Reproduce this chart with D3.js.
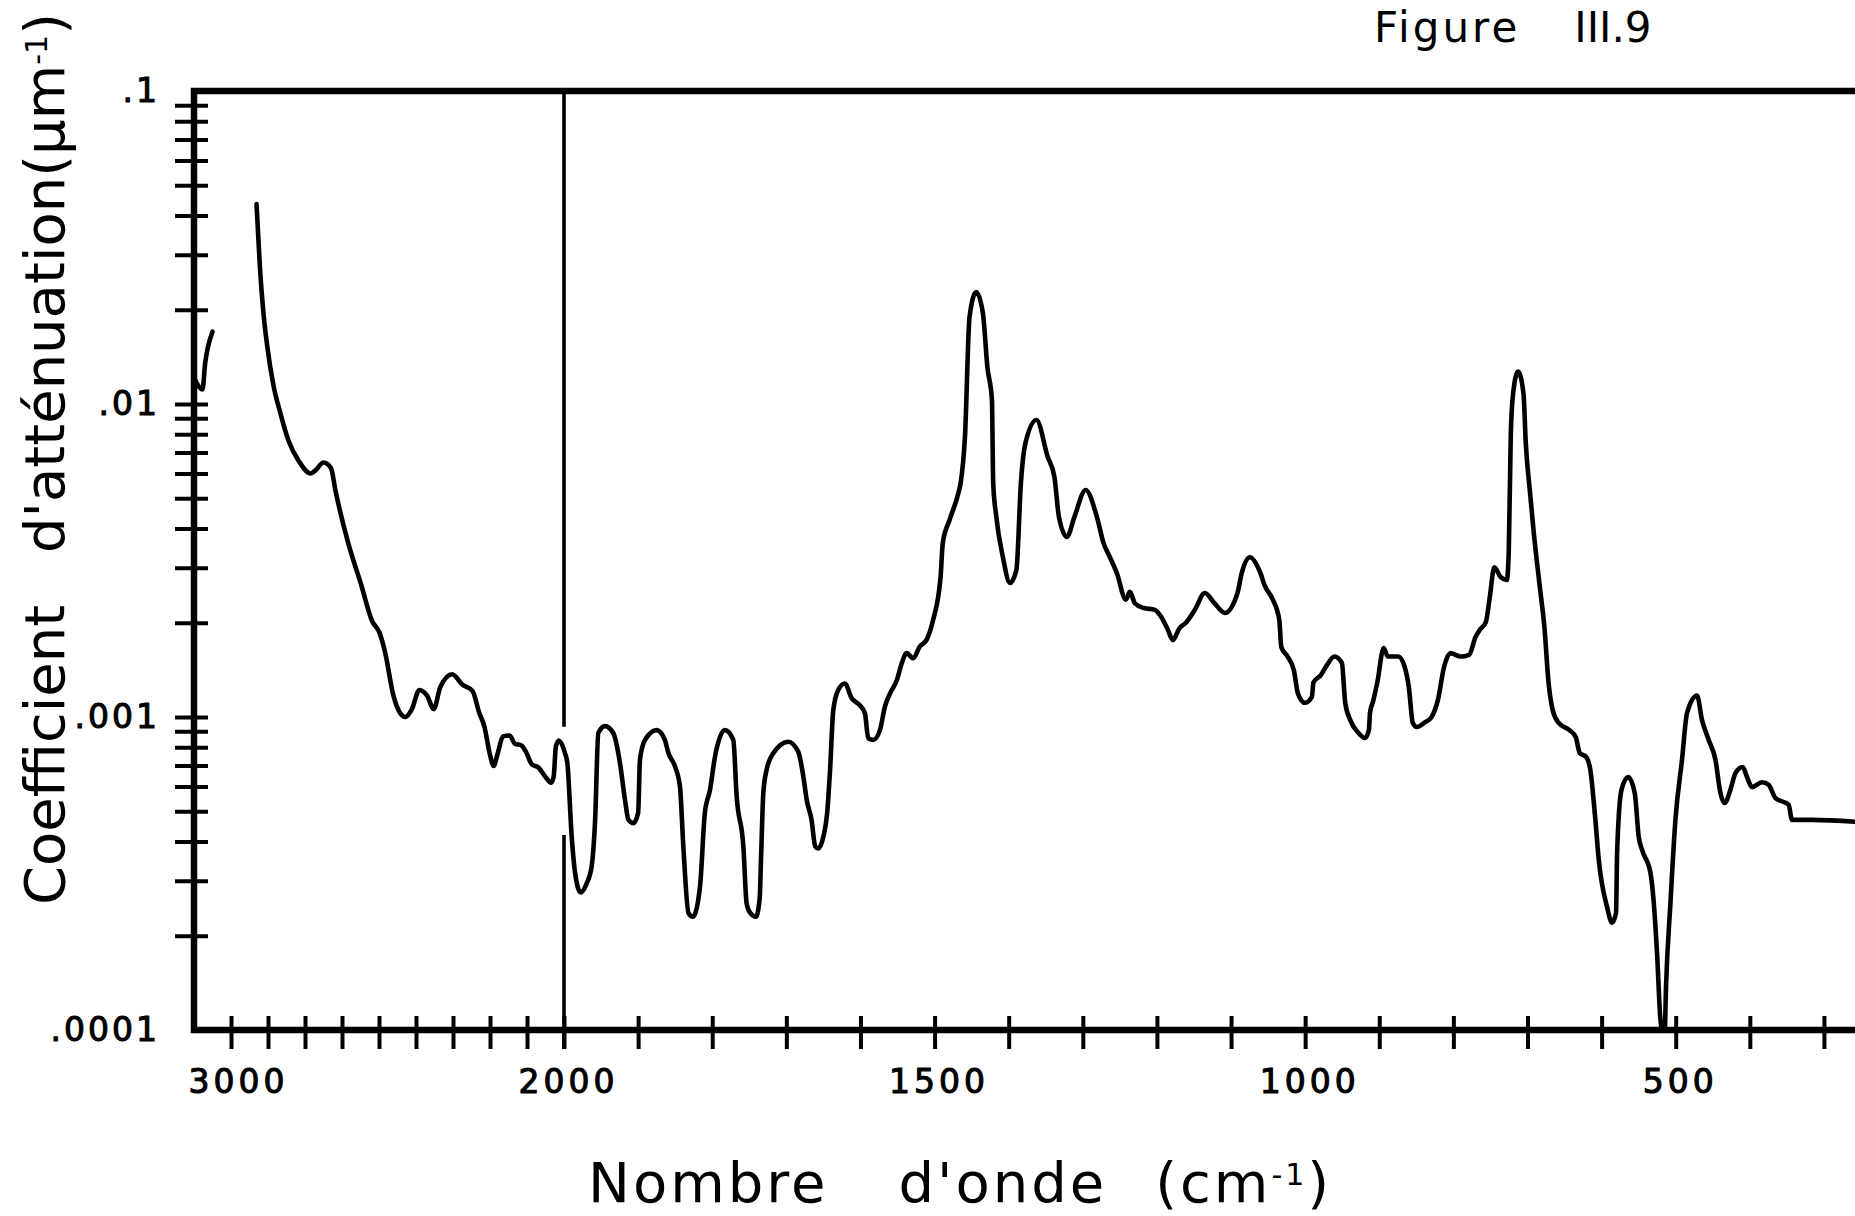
<!DOCTYPE html>
<html>
<head>
<meta charset="utf-8">
<script src="https://cdn.jsdelivr.net/npm/d3@7"></script>
<style>
  body { margin: 0; background: #fff; }
  svg { display: block; }
  text { font-family: "DejaVu Sans", "Liberation Sans", sans-serif; fill: #000; }
</style>
</head>
<body>
<svg id="chart"></svg>
<script>
// ---- data (wavenumber in cm-1, attenuation in µm-1) ----

// little hook drawn against the left axis
const hookWavenumber = [2998, 2977, 2970, 2963, 2950];
const hookCoef = [0.0120, 0.01114, 0.01346, 0.01507, 0.01702];

// 2830 - 2000 cm-1 (half scale part)
const wnHigh = [2831, 2822, 2813, 2802, 2785, 2767, 2744, 2717, 2685, 2671,
  2650, 2630, 2617, 2585, 2548, 2519, 2498, 2484, 2461, 2443,
  2429, 2411, 2391, 2370, 2352, 2334, 2302, 2275, 2247, 2229,
  2215, 2201, 2190, 2179, 2165, 2147, 2133, 2115, 2101, 2087,
  2069, 2051, 2035, 2028, 2022, 2014];
const coefHigh = [0.0435, 0.0275, 0.0199, 0.0153, 0.01143, 0.00939, 0.00760, 0.00658, 0.00600, 0.00615,
  0.00650, 0.00625, 0.00524, 0.00366, 0.00264, 0.00203, 0.00185, 0.00162, 0.00117, 0.00103,
  0.00100, 0.00106, 0.00122, 0.00117, 0.00106, 0.00125, 0.00137, 0.00127, 0.00121, 0.00103,
  0.000931, 0.000766, 0.000698, 0.000766, 0.000867, 0.000873, 0.000822, 0.000811, 0.000766, 0.000706,
  0.000690, 0.000646, 0.000617, 0.000644, 0.000804, 0.000841];

// 2000 - 1500 cm-1
const wnMid = [1998.7, 1995.5, 1989.6, 1985, 1977.5, 1969.4, 1962.7, 1958, 1953.7, 1944.7,
  1933.5, 1924.5, 1917.7, 1913, 1906.5, 1900, 1897.5, 1890.7, 1875, 1864,
  1859, 1850, 1843.5, 1839, 1832, 1826, 1816.5, 1810, 1803, 1796.3,
  1783, 1771.6, 1767, 1758, 1753.6, 1749, 1741, 1736, 1734, 1731,
  1726.6, 1717.6, 1697.4, 1684, 1677, 1672.5, 1666, 1661, 1657, 1650,
  1645, 1641, 1636.7, 1630, 1621, 1612, 1600.7, 1594, 1589.5, 1582.7,
  1573.7, 1567, 1560, 1551, 1544.5, 1537.7, 1528.8, 1520, 1511, 1502];
const coefMid = [0.000767, 0.000713, 0.000415, 0.000317, 0.000275, 0.000294, 0.000333, 0.000469, 0.000889, 0.000935,
  0.000889, 0.000713, 0.000543, 0.000469, 0.000458, 0.000493, 0.000730, 0.000845, 0.000908, 0.000845,
  0.000766, 0.000693, 0.000598, 0.000386, 0.000236, 0.000230, 0.000287, 0.000493, 0.000585, 0.000746,
  0.000908, 0.000845, 0.000557, 0.000386, 0.000254, 0.000237, 0.000230, 0.000263, 0.000363, 0.000575,
  0.000678, 0.000766, 0.000834, 0.000775, 0.000644, 0.000543, 0.000469, 0.000386, 0.000380, 0.000415,
  0.000492, 0.000678, 0.00105, 0.00122, 0.00128, 0.00115, 0.00109, 0.00103, 0.000855, 0.000845,
  0.000908, 0.00108, 0.00119, 0.00131, 0.00148, 0.00160, 0.00154, 0.00168, 0.00176, 0.00204];

// 1500 - 1000 cm-1
const wnLow = [1491.9, 1488.9, 1479.8, 1467.8, 1464.8, 1459, 1452.8, 1443.8, 1434.8, 1428.7,
  1422.6, 1420.9, 1416.7, 1407.8, 1398.3, 1389.6, 1383.5, 1377.4, 1362.5, 1347.4,
  1338.3, 1332.2, 1321.4, 1311.3, 1296.2, 1281, 1272.1, 1263.4, 1254, 1241.9,
  1236.5, 1229.7, 1217.9, 1202.8, 1193.8, 1185.2, 1178.7, 1169.7, 1160.9, 1148.8,
  1135.3, 1122.4, 1108.3, 1091.3, 1085.6, 1074.6, 1060.3, 1054.8, 1043.6, 1034.9,
  1032.1, 1023.7, 1015.2, 1009.8, 1000.4];
const coefLow = [0.00280, 0.00360, 0.00426, 0.00520, 0.00560, 0.00785, 0.0190, 0.0228, 0.0195, 0.0131,
  0.0103, 0.00560, 0.00436, 0.00324, 0.00268, 0.00295, 0.00560, 0.00750, 0.00889, 0.00678,
  0.00585, 0.00436, 0.00376, 0.00436, 0.00531, 0.00436, 0.00360, 0.00324, 0.00288, 0.00237,
  0.00251, 0.00231, 0.00223, 0.00220, 0.00208, 0.00190, 0.00176, 0.00192, 0.00200, 0.00220,
  0.00249, 0.00231, 0.00215, 0.00249, 0.00288, 0.00324, 0.00288, 0.00264, 0.00237, 0.00204,
  0.00167, 0.00156, 0.00141, 0.00119, 0.00111];

// 1000 - 250 cm-1
const wnFar = [990.9, 988.8, 978.8, 970.2, 960.6, 950.5, 945.9, 939.1, 927.9, 919.4,
  914, 912.5, 908, 902.6, 894, 888.4, 874.4, 865.9, 860.2, 854.7,
  849.3, 837.7, 829.4, 821, 812.4, 804, 790, 778.7, 770.2, 764.3,
  756.2, 750.8, 744.8, 736.3, 727.9, 725.2, 722.5, 719.4, 712.7, 705.4,
  702.3, 696.9, 691.5, 682.9, 677.2, 671.6, 665.9, 657.8, 643.4, 634.9,
  629.5, 620.8, 615.2, 608.4, 603.8, 592.6, 585.9, 580.5, 579.1, 573.2,
  564.3, 555.3, 549.9, 545.4, 534.1, 529.6, 525.2, 520.6, 518.4, 514.8,
  513.1, 507.1, 500.4, 491.5, 484.7, 471.2, 464.5, 455.5, 446.4, 439.7,
  433.9, 426.2, 419.4, 409.6, 403.8, 397, 383.6, 374.5, 365.5, 354.3,
  347.6, 343.1, 316.1, 255];
const coefFar = [0.00116, 0.00129, 0.00136, 0.00147, 0.00156, 0.00149, 0.00111, 0.000977, 0.000889, 0.000857,
  0.000908, 0.00103, 0.00113, 0.00129, 0.00166, 0.00156, 0.00156, 0.00145, 0.00125, 0.000957,
  0.000929, 0.000964, 0.00100, 0.00113, 0.00145, 0.00160, 0.00156, 0.00158, 0.00180, 0.00190,
  0.00201, 0.00242, 0.00301, 0.00280, 0.00274, 0.00342, 0.00807, 0.0108, 0.0127, 0.0108,
  0.00750, 0.00531, 0.00387, 0.00255, 0.00194, 0.00129, 0.00105, 0.000957, 0.000908, 0.000863,
  0.000767, 0.000745, 0.000678, 0.000469, 0.000349, 0.000247, 0.000220, 0.000237, 0.000367, 0.000585,
  0.000643, 0.000572, 0.000414, 0.000376, 0.000318, 0.000255, 0.000176, 0.000108, 0.000100, 0.000100,
  0.000137, 0.000255, 0.000469, 0.000730, 0.00103, 0.00117, 0.000977, 0.000845, 0.000730, 0.000572,
  0.000531, 0.000585, 0.000662, 0.000692, 0.000643, 0.000597, 0.000619, 0.000607, 0.000551, 0.000535,
  0.000524, 0.000469, 0.000469, 0.000462];

// axis ticks and labels
const xTickValues = [2900, 2800, 2700, 2600, 2500, 2400, 2300, 2200, 2100, 2000,
  1900, 1800, 1700, 1600, 1500, 1400, 1300, 1200, 1100, 1000,
  900, 800, 700, 600, 500, 400, 300];
const xLabelValues = [3000, 2000, 1500, 1000, 500];
const yLabelValues = [0.1, 0.01, 0.001, 0.0001];
const yLabelText = [".1", ".01", ".001", ".0001"];
// the 2000 cm-1 scale change line is interrupted where the trace crosses it
const breakLineGap = [0.00093, 0.00042];

// ---- layout ----
const width = 1855, height = 1216;
const svg = d3.select("#chart").attr("width", width).attr("height", height);

// wavenumber axis: half scale above 2000 cm-1
const x = d3.scaleLinear().domain([3000, 2000, 250]).range([194, 564, 1861]);
const y = d3.scaleLog().domain([0.0001, 0.1]).range([1030, 91]);

// frame: top border, left and bottom axes
svg.append("path")
    .attr("d", `M${width},${y(0.1)}H${x(3000)}V${y(0.0001)}H${width}`)
    .attr("fill", "none")
    .attr("stroke", "#000")
    .attr("stroke-width", 6.5)
    .attr("stroke-linejoin", "miter");

// x ticks cross the axis
const gx = svg.append("g")
    .attr("transform", `translate(0,${y(0.0001)})`)
    .call(d3.axisBottom(x).tickValues(xTickValues).tickSize(18).tickFormat(""));
gx.select(".domain").remove();
gx.selectAll(".tick line")
    .attr("y1", -14).attr("y2", 19)
    .attr("stroke", "#000").attr("stroke-width", 4);

// x labels (lettering is medium weight: regular glyphs with a thin outline)
const gxl = svg.append("g")
    .attr("transform", `translate(0,${y(0.0001)})`)
    .call(d3.axisBottom(x).tickValues(xLabelValues).tickSize(0).tickPadding(40).tickFormat(d3.format("d")));
gxl.select(".domain").remove();
gxl.selectAll("text")
    .style("font-size", "33px")
    .style("letter-spacing", "4px")
    .attr("stroke", "#000").attr("stroke-width", 1.1)
    .attr("dx", d => d === 3000 ? 44 : 4);

// y ticks (log minor ticks) cross the axis
const yTickValues = y.ticks().filter(d => d > 0.0001 * 1.01 && d < 0.1 * 0.99);
const gy = svg.append("g")
    .attr("transform", `translate(${x(3000)},0)`)
    .call(d3.axisLeft(y).tickValues(yTickValues).tickSize(18).tickFormat(""));
gy.select(".domain").remove();
gy.selectAll(".tick line")
    .attr("x1", -19).attr("x2", 14)
    .attr("stroke", "#000").attr("stroke-width", 4);

// y labels
const gyl = svg.append("g")
    .attr("transform", `translate(${x(3000)},0)`)
    .call(d3.axisLeft(y).tickValues(yLabelValues).tickSize(0).tickPadding(34)
        .tickFormat((d, i) => yLabelText[i]));
gyl.select(".domain").remove();
gyl.selectAll("text")
    .style("font-size", "33px")
    .style("letter-spacing", "3px")
    .attr("stroke", "#000").attr("stroke-width", 1.1);

// scale change line at 2000 cm-1 (two pieces)
[[0.1, breakLineGap[0]], [breakLineGap[1], 0.0001]].forEach(seg => {
    svg.append("line")
        .attr("x1", x(2000)).attr("x2", x(2000))
        .attr("y1", y(seg[0])).attr("y2", y(seg[1]))
        .attr("stroke", "#000").attr("stroke-width", 3.6);
});
// tick below the axis at 2000
svg.append("line")
    .attr("x1", x(2000)).attr("x2", x(2000))
    .attr("y1", y(0.0001)).attr("y2", y(0.0001) + 19)
    .attr("stroke", "#000").attr("stroke-width", 4);

// spectrum trace
const toPoints = (wn, k) => wn.map((w, i) => ({ w: w, k: k[i] }));
const spectrum = [].concat(
    toPoints(wnHigh, coefHigh),
    toPoints(wnMid, coefMid),
    toPoints(wnLow, coefLow),
    toPoints(wnFar, coefFar)
);
const hook = toPoints(hookWavenumber, hookCoef);

const line = d3.line()
    .x(d => x(d.w))
    .y(d => y(d.k))
    .curve(d3.curveMonotoneX);

[hook, spectrum].forEach(pts => {
    svg.append("path")
        .datum(pts)
        .attr("d", line)
        .attr("fill", "none")
        .attr("stroke", "#000")
        .attr("stroke-width", 4.6)
        .attr("stroke-linejoin", "round")
        .attr("stroke-linecap", "round");
});

// axis titles
const yTitle = svg.append("text")
    .attr("transform", `translate(64,905) rotate(-90)`)
    .attr("text-anchor", "start")
    .style("font-size", "56px")
    .style("word-spacing", "34px");
yTitle.append("tspan").text("Coefficient d'atténuation(µm");
yTitle.append("tspan").attr("baseline-shift", "super").style("font-size", "30px").text("-1");
yTitle.append("tspan").text(")");

const xTitle = svg.append("text")
    .attr("x", 588).attr("y", 1202)
    .attr("text-anchor", "start")
    .style("font-size", "56px")
    .style("letter-spacing", "3px");
xTitle.append("tspan").text("Nombre");
xTitle.append("tspan").attr("dx", 70).text("d'onde");
xTitle.append("tspan").attr("dx", 48).text("(cm");
xTitle.append("tspan").attr("baseline-shift", "super").style("font-size", "30px").text("-1");
xTitle.append("tspan").text(")");

const fig = svg.append("text")
    .attr("x", 1374).attr("y", 42)
    .style("font-size", "42px")
    .style("letter-spacing", "3px");
fig.append("tspan").text("Figure");
fig.append("tspan").attr("dx", 54).style("letter-spacing", "0px").text("III.9");
</script>
</body>
</html>
